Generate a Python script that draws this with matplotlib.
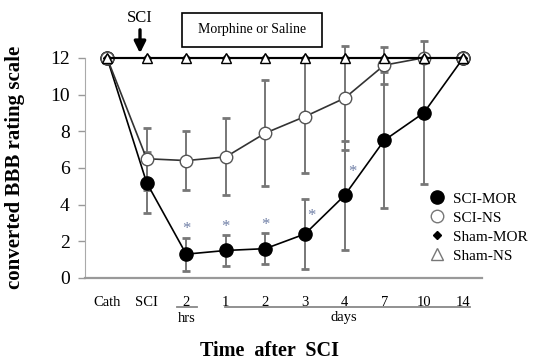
import matplotlib
matplotlib.use("Agg")
import matplotlib.pyplot as plt
from matplotlib.lines import Line2D
from matplotlib.patches import Rectangle

plt.rcParams['font.family'] = ['Liberation Serif', 'DejaVu Serif']

# categories on the x axis
labels = ['Cath', 'SCI', '2', '1', '2', '3', '4', '7', '10', '14']
x = list(range(len(labels)))

# BBB scores (mean, +/- error)
sci_mor = [12, 5.2, 1.3, 1.5, 1.6, 2.4, 4.5, 7.5, 9.0, 12]
sci_mor_err = [0, 1.65, 0.9, 0.85, 0.85, 1.9, 2.95, 3.7, 3.9, 0]
sci_ns = [12, 6.5, 6.4, 6.6, 7.9, 8.8, 9.8, 11.6, 12, 12]
sci_ns_err = [0, 1.7, 1.6, 2.1, 2.9, 3.1, 2.85, 1.0, 0, 0]
sham_mor = [12, 12, 12, 12, 12, 12, 12, 12, 12, 12]
sham_ns = [12, 12, 12, 12, 12, 12, 12, 12, 12, 12]

# groups marked significant
starred = [2, 3, 4, 5, 6]

W, H = 539, 360
fig = plt.figure(figsize=(W / 100, H / 100), dpi=100)
ax = fig.add_axes([85 / W, 1 - 278 / H, 397 / W, 242.2 / H])


def fx(px):
    return px / W


def fy(py):
    return 1 - py / H


# error bars first
for y, e in [(sci_ns, sci_ns_err), (sci_mor, sci_mor_err)]:
    eb = ax.errorbar(x, y, yerr=e, fmt='none', ecolor='#777777', elinewidth=1.4,
                     capsize=3, capthick=2, zorder=2)
    for cap in eb[1]:
        cap.set_color('#222222')

ax.plot(x, sci_mor, '-', color='black', lw=1.2, marker='o', ms=9.5,
        mfc='black', mec='black', zorder=3)
ax.plot(x, sci_ns, '-', color='#333333', lw=1.2, marker='o', ms=9,
        mfc='white', mec='#555555', mew=1.0, zorder=4)
ax.plot(x, sham_mor, '-', color='black', lw=1.5, marker='D', ms=4,
        mfc='black', mec='black', zorder=5)
ax.plot(x, sham_ns, '-', color='black', lw=1.5, marker='^', ms=6.5,
        mfc='white', mec='black', mew=1.0, zorder=6)

# asterisks
star_off = {2: (0, 0.45), 3: (0, 0.45), 4: (0, 0.45), 5: (0.17, 1.0), 6: (0.2, 1.25)}
for i in starred:
    dx, dy = star_off[i]
    base = sci_mor[i] + (sci_mor_err[i] if i < 5 else 0)
    ax.text(i + dx, base + dy, '*', color='#6f7fa6', fontsize=12,
            ha='center', va='center')

ax.set_xlim(-0.556, 9.47)
ax.set_ylim(0, 13.2)
ax.set_yticks([0, 2, 4, 6, 8, 10, 12])
ax.set_xticks(x)
ax.set_xticklabels(labels, fontsize=10.5)
ax.tick_params(axis='y', labelsize=14, length=5, width=1, color='#999999', pad=6)
ax.tick_params(axis='x', length=0, pad=13)
for s in ['top', 'right']:
    ax.spines[s].set_visible(False)
ax.spines['left'].set_bounds(0, 12)
ax.spines['left'].set_color('#aaaaaa')
ax.spines['bottom'].set_color('#999999')
ax.spines['bottom'].set_linewidth(1.6)

ax.set_ylabel('converted BBB rating scale', fontsize=15, fontweight='bold')
ax.yaxis.set_label_coords(-0.151, 0.456)
fig.text(fx(269), fy(351), 'Time  after  SCI', fontsize=14.5, fontweight='bold',
         ha='center', va='center')

# under-lines for hrs / days
fig.add_artist(Line2D([fx(177), fx(197)], [fy(306.7), fy(306.7)], color='#888888', lw=1.3))
fig.add_artist(Line2D([fx(225), fx(470)], [fy(306.5), fy(306.5)], color='#888888', lw=1.3))
fig.text(fx(187), fy(318), 'hrs', fontsize=10.5, ha='center', va='center')
fig.text(fx(344), fy(318), 'days', fontsize=10.5, ha='center', va='center')

# SCI arrow and treatment box
fig.text(fx(140), fy(18.5), 'SCI', fontsize=12, ha='center', va='center')
ax.annotate('', xy=(fx(140), fy(56)), xytext=(fx(140), fy(27)),
            xycoords='figure fraction', textcoords='figure fraction',
            arrowprops=dict(arrowstyle='-|>', color='black', lw=2.4,
                            mutation_scale=17))
fig.add_artist(Rectangle((fx(182), fy(47)), (322 - 182) / W, 34 / H,
                         transform=fig.transFigure, fill=False,
                         edgecolor='black', lw=1.2))
fig.text(fx(252), fy(30), 'Morphine or Saline', fontsize=10, ha='center', va='center')

handles = [
    Line2D([], [], ls='none', marker='o', ms=9.5, mfc='black', mec='black'),
    Line2D([], [], ls='none', marker='o', ms=9, mfc='white', mec='#777777'),
    Line2D([], [], ls='none', marker='D', ms=4.5, mfc='black', mec='black'),
    Line2D([], [], ls='none', marker='^', ms=8, mfc='white', mec='#777777'),
]
fig.legend(handles, ['SCI-MOR', 'SCI-NS', 'Sham-MOR', 'Sham-NS'],
           loc='upper left', bbox_to_anchor=(fx(428), fy(192)), frameon=False,
           fontsize=11, handlelength=1.2, handletextpad=0.45,
           labelspacing=0.35, borderpad=0, borderaxespad=0)

plt.savefig('out.png', dpi=100)
